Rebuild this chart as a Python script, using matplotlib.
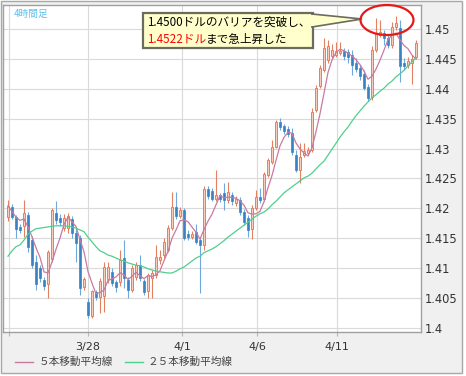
import matplotlib
matplotlib.use("Agg")
import matplotlib.pyplot as plt
from matplotlib.patches import Rectangle, Ellipse, Polygon
from matplotlib.lines import Line2D
import numpy as np
import pandas as pd

# ---------------- data (4-hour candles) ----------------
open_ = [1.4186, 1.4202, 1.4186, 1.4169, 1.4171, 1.4189, 1.4147, 1.4110, 1.4100, 1.4080,
         1.4074, 1.4116, 1.4192, 1.4184, 1.4167, 1.4167, 1.4182, 1.4159, 1.4151, 1.4069,
         1.4044, 1.4020, 1.4060, 1.4052, 1.4054, 1.4082, 1.4094, 1.4077, 1.4077, 1.4117,
         1.4080, 1.4064, 1.4085, 1.4105, 1.4079, 1.4062, 1.4084, 1.4089, 1.4114, 1.4122,
         1.4131, 1.4167, 1.4202, 1.4187, 1.4197, 1.4157, 1.4152, 1.4161, 1.4147, 1.4139,
         1.4232, 1.4229, 1.4216, 1.4222, 1.4226, 1.4214, 1.4222, 1.4209, 1.4214, 1.4194,
         1.4184, 1.4166, 1.4201, 1.4219, 1.4216, 1.4256, 1.4278, 1.4303, 1.4345, 1.4338,
         1.4333, 1.4326, 1.4289, 1.4264, 1.4289, 1.4293, 1.4298, 1.4365, 1.4405, 1.4431,
         1.4448, 1.4455, 1.4457, 1.4460, 1.4463, 1.4462, 1.4457, 1.4443, 1.4435, 1.4425,
         1.4403, 1.4386, 1.4465, 1.4490, 1.4493, 1.4485, 1.4473, 1.4503, 1.4502, 1.4443,
         1.4440, 1.4443, 1.4453]
close = [1.4204, 1.4186, 1.4166, 1.4164, 1.4192, 1.4136, 1.4105, 1.4074, 1.4084, 1.4070,
         1.4127, 1.4197, 1.4181, 1.4177, 1.4184, 1.4187, 1.4159, 1.4142, 1.4067, 1.4082,
         1.4022, 1.4062, 1.4052, 1.4079, 1.4102, 1.4102, 1.4075, 1.4069, 1.4114, 1.4084,
         1.4064, 1.4100, 1.4105, 1.4084, 1.4060, 1.4089, 1.4092, 1.4119, 1.4119, 1.4144,
         1.4167, 1.4202, 1.4187, 1.4197, 1.4151, 1.4152, 1.4157, 1.4144, 1.4139, 1.4232,
         1.4221, 1.4216, 1.4222, 1.4216, 1.4214, 1.4227, 1.4212, 1.4216, 1.4194, 1.4177,
         1.4164, 1.4201, 1.4219, 1.4214, 1.4258, 1.4281, 1.4303, 1.4345, 1.4336, 1.4329,
         1.4324, 1.4294, 1.4264, 1.4286, 1.4296, 1.4298, 1.4361, 1.4401, 1.4435, 1.4468,
         1.4472, 1.4465, 1.4463, 1.4463, 1.4455, 1.4453, 1.4440, 1.4433, 1.4421, 1.4401,
         1.4385, 1.4465, 1.4493, 1.4495, 1.4485, 1.4473, 1.4503, 1.4510, 1.4438, 1.4438,
         1.4446, 1.4450, 1.4477]
high = [1.4214, 1.4207, 1.4189, 1.4174, 1.4214, 1.4194, 1.4154, 1.4122, 1.4105, 1.4085,
        1.4131, 1.4201, 1.4212, 1.4191, 1.4191, 1.4192, 1.4187, 1.4169, 1.4156, 1.4085,
        1.4050, 1.4064, 1.4064, 1.4084, 1.4110, 1.4110, 1.4100, 1.4080, 1.4131, 1.4147,
        1.4085, 1.4105, 1.4110, 1.4122, 1.4082, 1.4092, 1.4097, 1.4139, 1.4131, 1.4151,
        1.4172, 1.4227, 1.4227, 1.4202, 1.4201, 1.4164, 1.4162, 1.4174, 1.4152, 1.4237,
        1.4237, 1.4234, 1.4264, 1.4226, 1.4243, 1.4244, 1.4227, 1.4221, 1.4219, 1.4199,
        1.4189, 1.4206, 1.4231, 1.4234, 1.4261, 1.4284, 1.4314, 1.4348, 1.4351, 1.4341,
        1.4338, 1.4334, 1.4298, 1.4309, 1.4309, 1.4303, 1.4368, 1.4406, 1.4440, 1.4485,
        1.4482, 1.4475, 1.4478, 1.4478, 1.4468, 1.4467, 1.4465, 1.4452, 1.4440, 1.4431,
        1.4408, 1.4472, 1.4518, 1.4515, 1.4498, 1.4490, 1.4512, 1.4522, 1.4515, 1.4452,
        1.4453, 1.4457, 1.4482]
low = [1.4179, 1.4182, 1.4151, 1.4159, 1.4152, 1.4127, 1.4100, 1.4064, 1.4077, 1.4064,
       1.4050, 1.4110, 1.4174, 1.4171, 1.4162, 1.4159, 1.4151, 1.4110, 1.4055, 1.4064,
       1.4017, 1.4017, 1.4047, 1.4025, 1.4027, 1.4075, 1.4070, 1.4060, 1.4070, 1.4067,
       1.4050, 1.4060, 1.4080, 1.4079, 1.4055, 1.4050, 1.4050, 1.4084, 1.4107, 1.4117,
       1.4127, 1.4164, 1.4182, 1.4184, 1.4147, 1.4147, 1.4149, 1.4141, 1.4059, 1.4131,
       1.4216, 1.4212, 1.4212, 1.4211, 1.4197, 1.4209, 1.4206, 1.4204, 1.4189, 1.4172,
       1.4152, 1.4149, 1.4197, 1.4209, 1.4212, 1.4253, 1.4274, 1.4301, 1.4331, 1.4324,
       1.4319, 1.4289, 1.4261, 1.4243, 1.4286, 1.4289, 1.4294, 1.4361, 1.4401, 1.4428,
       1.4443, 1.4452, 1.4453, 1.4457, 1.4448, 1.4443, 1.4423, 1.4428, 1.4415, 1.4398,
       1.4380, 1.4381, 1.4462, 1.4487, 1.4473, 1.4468, 1.4468, 1.4498, 1.4411, 1.4431,
       1.4435, 1.4408, 1.4450]
# 25-bar moving average as drawn (history before the window is not visible)
ma25 = [1.4120, 1.4129, 1.4136, 1.4139, 1.4147, 1.4157, 1.4162, 1.4166, 1.4167, 1.4168,
        1.4169, 1.4170, 1.4171, 1.4171, 1.4171, 1.4170, 1.4169, 1.4167, 1.4164, 1.4161,
        1.4152, 1.4144, 1.4136, 1.4129, 1.4126, 1.4122, 1.4120, 1.4117, 1.4114, 1.4112,
        1.4109, 1.4107, 1.4105, 1.4104, 1.4102, 1.4099, 1.4097, 1.4095, 1.4094, 1.4093,
        1.4092, 1.4092, 1.4095, 1.4099, 1.4102, 1.4107, 1.4112, 1.4117, 1.4120, 1.4126,
        1.4129, 1.4132, 1.4136, 1.4141, 1.4146, 1.4152, 1.4157, 1.4162, 1.4167, 1.4172,
        1.4177, 1.4182, 1.4187, 1.4191, 1.4194, 1.4199, 1.4206, 1.4212, 1.4219, 1.4226,
        1.4231, 1.4236, 1.4241, 1.4246, 1.4251, 1.4254, 1.4259, 1.4266, 1.4273, 1.4279,
        1.4289, 1.4299, 1.4309, 1.4319, 1.4328, 1.4336, 1.4346, 1.4355, 1.4363, 1.4371,
        1.4378, 1.4385, 1.4390, 1.4396, 1.4401, 1.4408, 1.4413, 1.4420, 1.4425, 1.4431,
        1.4438, 1.4445, 1.4452]

day_ticks = [0.25, 20, 43.5, 62.25, 82.25]
day_labels = ["", "3/28", "4/1", "4/6", "4/11"]
price_ticks = [1.40, 1.405, 1.41, 1.415, 1.42, 1.425, 1.43, 1.435, 1.44, 1.445, 1.45]
price_labels = ["1.4", "1.405", "1.41", "1.415", "1.42", "1.425", "1.43", "1.435", "1.44", "1.445", "1.45"]
legend_labels = ["５本移動平均線", "２５本移動平均線"]
title_text = "4時間足"
note_line1 = "1.4500ドルのバリアを突破し、"
note_line2_red = "1.4522ドル"
note_line2_rest = "まで急上昇した"

# ---------------- figure ----------------
W, H = 466, 376
JP = ['Noto Sans CJK JP', 'DejaVu Sans']
plt.rcParams['font.family'] = ['DejaVu Sans', 'Noto Sans CJK JP']

fig = plt.figure(figsize=(W / 100, H / 100), dpi=100, facecolor='white')


def fx(px):
    return px / W


def fy(py):
    return 1 - py / H


panel = Rectangle((fx(0.5), fy(373)), fx(462) - fx(0.5), fy(0.5) - fy(373),
                  transform=fig.transFigure, facecolor='#f0f0f0', edgecolor='#a8a8a8',
                  lw=1.0, zorder=-5)
fig.patches.append(panel)

ax = fig.add_axes([fx(3), fy(332), fx(421) - fx(3), fy(5) - fy(332)])
ax.set_zorder(1)
ax.set_facecolor('white')
N = len(close)
x = np.arange(N)
ax.set_xlim(-1.25, 103.25)
ax.set_ylim(1.45 - (332 - 29) / 5980, 1.45 + (29 - 5) / 5980)

o = np.array(open_)
c = np.array(close)
hi = np.array(high)
lo = np.array(low)
up = c >= o

bull_fill, bull_edge = '#f7cdbd', '#e3805f'
bear_fill, bear_wick = '#3b82c4', '#6ea8dc'

wick_cols = np.where(up, bull_edge, bear_wick)
ax.vlines(x, lo, hi, colors=wick_cols, lw=0.8, zorder=2)
body_h = np.maximum(np.abs(c - o), 0.00004)
body_b = np.minimum(o, c)
ax.bar(x[up], body_h[up], bottom=body_b[up], width=0.72, color=bull_fill,
       edgecolor=bull_edge, linewidth=0.7, zorder=3)
ax.bar(x[~up], body_h[~up], bottom=body_b[~up], width=0.72, color=bear_fill,
       edgecolor=bear_fill, linewidth=0.5, zorder=3)

ma5 = pd.Series(close).rolling(5, min_periods=1).mean()
ma5_col, ma25_col = '#c97aa0', '#4fcf8d'
ax.plot(x, ma5, color=ma5_col, lw=0.9, zorder=4)
ax.plot(x, ma25, color=ma25_col, lw=0.9, zorder=4)

ax.set_yticks(price_ticks)
ax.set_yticklabels(price_labels)
ax.yaxis.tick_right()
ax.tick_params(axis='y', length=0, pad=2.5, labelsize=8.3, labelcolor='#333333')
ax.set_xticks(day_ticks)
ax.set_xticklabels(day_labels)
ax.tick_params(axis='x', length=3, width=0.8, color='#b8b8b8', pad=4,
               labelsize=8.0, labelcolor='#333333')
ax.grid(True, color='#dadada', lw=0.8)
ax.set_axisbelow(True)
for s in ax.spines.values():
    s.set_color('#a0a0a0')
    s.set_linewidth(1.0)

# title
fig.text(fx(14), fy(13.5), title_text, color='#5cc0ee', fontsize=7, va='center',
         ha='left', family=JP, zorder=20)

# legend
fig.add_artist(Line2D([fx(15), fx(33)], [fy(362), fy(362)], color=ma5_col, lw=1.0))
fig.text(fx(39), fy(362), legend_labels[0], fontsize=7.7, va='center', ha='left',
         color='#444444', family=JP)
fig.add_artist(Line2D([fx(125), fx(143)], [fy(362), fy(362)], color=ma25_col, lw=1.0))
fig.text(fx(148), fy(362), legend_labels[1], fontsize=7.7, va='center', ha='left',
         color='#444444', family=JP)

# callout
box = Rectangle((fx(143), fy(48)), fx(313) - fx(143), fy(13) - fy(48),
                transform=fig.transFigure, facecolor='#ffffcc', edgecolor='#6b6b5e',
                lw=1.6, zorder=10)
fig.patches.append(box)
ptr = Polygon([(fx(312), fy(14)), (fx(312), fy(27)), (fx(362), fy(19))],
              closed=True, transform=fig.transFigure, facecolor='#ffffcc',
              edgecolor='#6b6b5e', lw=1.2, zorder=11)
fig.patches.append(ptr)
fig.patches.append(Rectangle((fx(311), fy(26)), fx(3), fy(15) - fy(26),
                             transform=fig.transFigure, facecolor='#ffffcc',
                             edgecolor='none', zorder=12))
fig.text(fx(147), fy(22.5), note_line1, fontsize=8.4, va='center', ha='left',
         color='black', family=JP, zorder=13)
t_red = fig.text(fx(147), fy(39.5), note_line2_red, fontsize=8.4, va='center',
                 ha='left', color='#ff0000', family=JP, zorder=13)
fig.canvas.draw()
bb = t_red.get_window_extent(fig.canvas.get_renderer())
fig.text(bb.x1 / fig.bbox.width, fy(39.5), note_line2_rest, fontsize=8.4, va='center',
         ha='left', color='black', family=JP, zorder=13)

ell = Ellipse((fx(387), fy(20)), 53 / W, 30 / H, transform=fig.transFigure,
              fill=False, edgecolor='#e41a1a', lw=1.6, zorder=14)
fig.patches.append(ell)

fig.savefig('out.png', dpi=100, facecolor='white')
